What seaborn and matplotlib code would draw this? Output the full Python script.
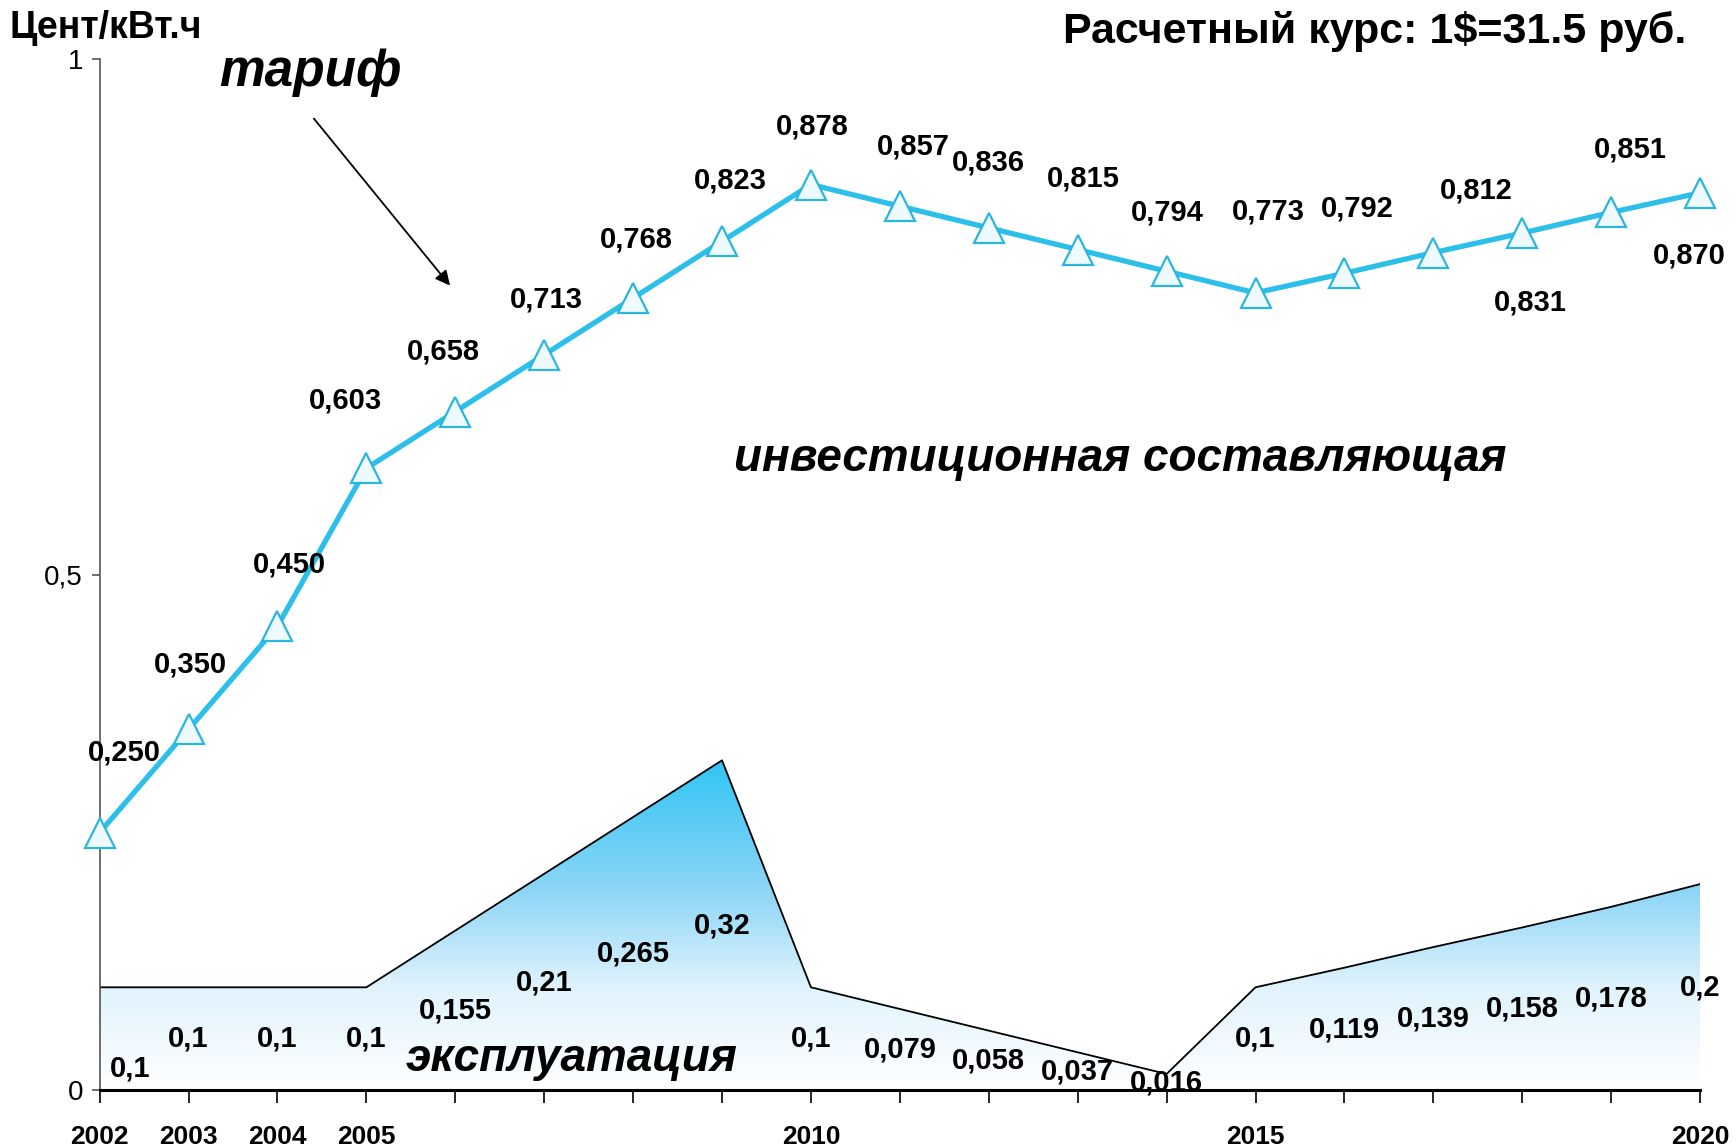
import numpy as np
import seaborn as sns
from matplotlib import pyplot as plt
from matplotlib.colors import LinearSegmentedColormap

years = list(range(2002, 2021))
tariff = [0.250, 0.350, 0.450, 0.603, 0.658, 0.713, 0.768, 0.823, 0.878, 0.857,
          0.836, 0.815, 0.794, 0.773, 0.792, 0.812, 0.831, 0.851, 0.870]
operation = [0.1, 0.1, 0.1, 0.1, 0.155, 0.21, 0.265, 0.32, 0.1, 0.079,
             0.058, 0.037, 0.016, 0.1, 0.119, 0.139, 0.158, 0.178, 0.2]
xtick_labels = ['2002', '2003', '2004', '2005', '', '', '', '', '2010', '',
                '', '', '', '2015', '', '', '', '', '2020']
ytick_vals = [0, 0.5, 1]
ytick_labels = ['0', '0,5', '1']

# label offsets in pixels (dx, dy), dy up
tariff_offsets = [(25, 80), (2, 65), (12, 62), (-21, 68), (-12, 60), (2, 55), (3, 59),
                  (8, 61), (1, 58), (13, 60), (0, 65), (6, 71), (1, 59), (13, 81),
                  (13, 65), (43, 62), (8, -69), (19, 63), (-11, -63)]
oper_offsets = [(30, -30)] + [(0, 0)] * 18

sns.set_theme(style='white')
plt.rcParams['font.family'] = ['Liberation Sans', 'DejaVu Sans']
plt.rcParams['text.color'] = 'black'
plt.rcParams['xtick.color'] = 'black'
plt.rcParams['ytick.color'] = 'black'

fig = plt.figure(figsize=(17.36, 11.48), dpi=100)
ax = fig.add_axes([0.0574, 0.0501, 0.9219, 0.8988])

# gradient area (operation)
poly = ax.fill_between(years, operation, 0, color='none', edgecolor='none', zorder=1)
cmap = LinearSegmentedColormap.from_list(
    'g', [(0, '#ffffff'), (0.31, '#e0f3fd'), (0.6, '#8ed6f6'), (1.0, '#30c4f4')])
grad = np.linspace(0, 1, 256).reshape(-1, 1)
img = ax.imshow(grad, extent=[2002, 2020, 0, max(operation)], origin='lower',
                aspect='auto', cmap=cmap, zorder=1)
img.set_clip_path(poly.get_paths()[0], transform=ax.transData)
ax.plot(years, operation, color='black', lw=1.3, zorder=2)

# tariff line
sns.lineplot(x=years, y=tariff, ax=ax, color='#2bbfea', lw=3.8, marker='^',
             markersize=21, markerfacecolor='#eefafd', markeredgecolor='#2ab6de',
             markeredgewidth=1.6, zorder=4, clip_on=False)

for x, v, (dx, dy) in zip(years, tariff, tariff_offsets):
    ax.annotate(f'{v:.3f}'.replace('.', ','), (x, v), xytext=(dx, dy),
                textcoords='offset pixels', ha='center', va='center',
                fontsize=21, fontweight='bold', annotation_clip=False, zorder=5)

for x, v, (dx, dy) in zip(years, operation, oper_offsets):
    ax.annotate(str(v).replace('.', ','), (x, v / 2), xytext=(dx, dy),
                textcoords='offset pixels', ha='center', va='center',
                fontsize=21, fontweight='bold', annotation_clip=False, zorder=5)

ax.text(2004.37, 0.987, 'тариф', ha='center', va='center', fontsize=37,
        fontweight='bold', fontstyle='italic')
ax.annotate('', xy=(2005.96, 0.778), xytext=(2004.39, 0.944),
            arrowprops=dict(arrowstyle='-|>', color='black', lw=1.3,
                            mutation_scale=22))
ax.text(2013.48, 0.612, 'инвестиционная составляющая', ha='center', va='center',
        fontsize=33, fontweight='bold', fontstyle='italic')
ax.text(2007.31, 0.0305, 'эксплуатация', ha='center', va='center',
        fontsize=33, fontweight='bold', fontstyle='italic')

fig.text(106 / 1736, 1 - 28 / 1148, 'Цент/кВт.ч', ha='center', va='center',
         fontsize=27, fontweight='bold')
fig.text(1375 / 1736, 1 - 31 / 1148, 'Расчетный курс: 1$=31.5 руб.', ha='center',
         va='center', fontsize=31, fontweight='bold')

ax.set_xlim(2002, 2020)
ax.set_ylim(0, 1)
ax.set_xticks(years)
ax.set_xticklabels(xtick_labels, fontsize=19, fontweight='bold')
ax.set_yticks(ytick_vals)
ax.set_yticklabels(ytick_labels, fontsize=20)
ax.set_xlabel('')
ax.set_ylabel('')
for s in ['top', 'right']:
    ax.spines[s].set_visible(False)
ax.spines['bottom'].set_color('black')
ax.spines['bottom'].set_linewidth(2.2)
ax.spines['bottom'].set_zorder(6)
ax.spines['left'].set_color('#555555')
ax.spines['left'].set_linewidth(1.2)
ax.tick_params(axis='x', direction='out', length=9.5, width=1.2, color='black',
               pad=15, bottom=True)
ax.tick_params(axis='y', direction='out', length=6, width=1.2, color='#555555',
               pad=6, left=True)

fig.savefig('out.png', dpi=100)
